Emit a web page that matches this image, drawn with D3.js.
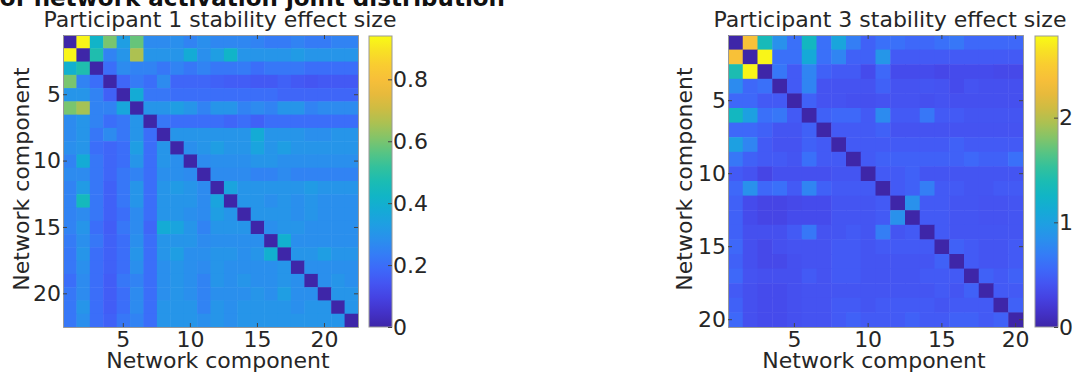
<!DOCTYPE html>
<html>
<head>
<meta charset="utf-8">
<script src="https://cdn.jsdelivr.net/npm/d3@7"></script>
<style>
  body { margin: 0; background: #fff; }
  text { font-family: "DejaVu Sans", Verdana, sans-serif; fill: #262626; }
</style>
</head>
<body>
<div id="chart"></div>
<script>
const width = 1073, height = 372

// tick labels
const matrixTicks = [5, 10, 15, 20]
const p1ColorTicks = [0, 0.2, 0.4, 0.6, 0.8]
const p3ColorTicks = [0, 1, 2]
const p1Max = 0.94
const p3Max = 2.78

// participant 1 effect sizes (22 x 22)
const p1Values = [
  [0, .93, .42, .60, .33, .58, .27, .27, .28, .25, .28, .26, .26, .26, .25, .23, .23, .25, .23, .23, .25, .25],
  [.93, 0, .48, .25, .30, .66, .30, .30, .30, .38, .28, .33, .42, .30, .30, .30, .30, .32, .30, .30, .30, .30],
  [.40, .48, 0, .20, .27, .25, .25, .22, .25, .22, .25, .22, .22, .23, .20, .22, .22, .22, .20, .20, .20, .20],
  [.60, .25, .20, 0, .18, .23, .20, .27, .18, .18, .18, .17, .16, .16, .15, .15, .17, .15, .14, .15, .15, .15],
  [.30, .30, .25, .17, 0, .38, .22, .22, .20, .20, .20, .20, .20, .20, .20, .20, .18, .18, .18, .18, .18, .18],
  [.60, .65, .25, .25, .36, 0, .30, .30, .33, .30, .25, .30, .30, .25, .27, .25, .30, .30, .25, .27, .27, .27],
  [.27, .30, .25, .20, .22, .30, 0, .22, .20, .20, .20, .20, .18, .20, .17, .20, .20, .20, .20, .20, .20, .20],
  [.27, .30, .22, .27, .22, .30, .20, 0, .30, .30, .30, .30, .30, .30, .38, .30, .30, .30, .28, .28, .30, .30],
  [.28, .30, .20, .18, .20, .33, .20, .30, 0, .28, .30, .33, .30, .30, .35, .30, .33, .30, .30, .30, .30, .30],
  [.25, .38, .22, .18, .20, .30, .20, .30, .28, 0, .27, .28, .28, .28, .30, .30, .28, .28, .28, .28, .28, .28],
  [.27, .27, .22, .18, .22, .25, .20, .28, .28, .27, 0, .27, .27, .27, .25, .25, .27, .25, .25, .25, .25, .25],
  [.25, .32, .22, .17, .22, .30, .20, .30, .32, .30, .27, 0, .35, .30, .30, .30, .30, .30, .32, .30, .30, .30],
  [.25, .45, .22, .17, .22, .30, .20, .30, .30, .30, .27, .35, 0, .30, .30, .28, .30, .28, .30, .28, .28, .28],
  [.25, .27, .22, .17, .20, .27, .20, .30, .30, .28, .27, .33, .30, 0, .30, .30, .30, .28, .30, .28, .28, .28],
  [.25, .30, .20, .16, .22, .27, .18, .38, .35, .30, .25, .30, .30, .30, 0, .28, .30, .30, .28, .28, .28, .28],
  [.23, .28, .22, .17, .20, .28, .20, .30, .30, .30, .27, .28, .28, .28, .28, 0, .40, .28, .28, .28, .28, .28],
  [.22, .30, .20, .17, .20, .30, .20, .30, .33, .28, .28, .30, .30, .28, .30, .40, 0, .30, .30, .33, .30, .30],
  [.22, .28, .20, .17, .20, .28, .20, .28, .30, .28, .27, .30, .28, .28, .28, .28, .30, 0, .28, .28, .28, .28],
  [.20, .27, .20, .16, .22, .25, .20, .28, .30, .28, .25, .30, .28, .30, .28, .28, .30, .28, 0, .28, .30, .28],
  [.22, .27, .20, .16, .20, .27, .20, .28, .30, .28, .25, .28, .28, .28, .30, .28, .33, .28, .28, 0, .30, .30],
  [.22, .30, .20, .16, .20, .27, .20, .30, .30, .30, .25, .30, .28, .30, .30, .30, .30, .28, .30, .30, 0, .30],
  [.22, .28, .20, .17, .22, .25, .20, .30, .30, .30, .28, .30, .28, .30, .30, .30, .30, .30, .30, .30, .30, 0]
]

// participant 3 effect sizes (20 x 20)
const p3Values = [
  [0, 2.40, 1.35, .85, .60, 1.30, .60, 1.05, .70, .50, .60, .60, .55, .55, .60, .65, .55, .55, .55, .55],
  [2.40, 0, 2.75, .60, .60, 1.10, .60, .75, .50, .50, .90, .45, .45, .45, .45, .45, .45, .45, .45, .45],
  [1.40, 2.75, 0, .65, .45, .75, .50, .45, .45, .35, .55, .35, .35, .35, .32, .35, .35, .35, .33, .33],
  [.80, .55, .60, 0, .45, .75, .40, .40, .40, .40, .50, .40, .40, .42, .40, .35, .40, .38, .38, .38],
  [.55, .55, .45, .45, 0, .50, .40, .40, .38, .38, .40, .40, .40, .38, .40, .38, .38, .38, .38, .38],
  [1.30, 1.00, .60, .65, .45, 0, .50, .55, .55, .45, .80, .45, .45, .65, .45, .45, .42, .42, .42, .42],
  [.55, .55, .50, .42, .42, .50, 0, .45, .45, .45, .50, .40, .40, .40, .40, .40, .40, .40, .40, .40],
  [1.00, .75, .45, .40, .40, .50, .45, 0, .45, .45, .45, .45, .45, .45, .45, .50, .45, .45, .45, .45],
  [.65, .50, .45, .45, .42, .60, .45, .45, 0, .45, .50, .50, .50, .50, .50, .50, .55, .50, .50, .60],
  [.45, .40, .30, .38, .38, .38, .38, .42, .42, 0, .45, .45, .50, .42, .42, .42, .42, .42, .42, .42],
  [.55, .85, .55, .60, .45, .75, .50, .45, .45, .45, 0, .45, .50, .70, .45, .45, .42, .42, .45, .45],
  [.50, .35, .30, .30, .33, .35, .35, .42, .42, .42, .45, 0, .85, .45, .45, .42, .42, .40, .40, .42],
  [.50, .35, .30, .30, .35, .35, .35, .42, .42, .42, .45, .85, 0, .45, .45, .42, .42, .40, .40, .42],
  [.50, .38, .38, .38, .45, .65, .40, .42, .45, .42, .70, .42, .45, 0, .45, .42, .42, .42, .42, .42],
  [.55, .38, .33, .38, .40, .40, .40, .45, .45, .42, .45, .45, .45, .45, 0, .50, .45, .42, .42, .45],
  [.50, .38, .33, .33, .38, .40, .40, .45, .45, .42, .42, .42, .42, .42, .50, 0, .45, .42, .42, .45],
  [.55, .40, .38, .38, .38, .45, .40, .45, .45, .42, .42, .42, .42, .45, .45, .45, 0, .50, .45, .50],
  [.45, .38, .35, .35, .38, .40, .40, .42, .42, .42, .42, .42, .42, .42, .45, .42, .50, 0, .45, .45],
  [.50, .38, .35, .35, .38, .40, .40, .45, .45, .42, .45, .45, .45, .45, .42, .45, .45, .45, 0, .50],
  [.55, .38, .35, .35, .38, .40, .40, .45, .50, .45, .45, .45, .50, .45, .45, .50, .50, .45, .50, 0]
]

// parula colour map (approximate key colours)
const parula = d3.interpolateRgbBasis([
  "#3e26a8", "#4536d7", "#4752f4", "#3b6ffc", "#2d8cf0", "#1ea0e2",
  "#0db2cf", "#16bcb4", "#3dc393", "#7ec66b", "#b8c04a", "#e3b83a",
  "#fdbd3c", "#f7d42a", "#f9fb15"
])

const svg = d3.select("#chart")
  .append("svg")
  .attr("width", width)
  .attr("height", height)

// figure heading, mostly cut off at the top
svg.append("text")
  .attr("x", 505)
  .attr("y", 6)
  .attr("text-anchor", "end")
  .style("font-weight", "bold")
  .style("font-size", "23px")
  .style("fill", "#111")
  .text("Stability of network activation joint distribution")

function drawPanel(opts) {
  const n = opts.values.length
  const x = d3.scaleBand().domain(d3.range(1, n + 1)).range([opts.left, opts.right])
  const y = d3.scaleBand().domain(d3.range(1, n + 1)).range([opts.top, opts.bottom])
  const color = d3.scaleSequential(parula).domain([0, opts.max])

  const cells = []
  opts.values.forEach((row, i) => {
    row.forEach((v, j) => cells.push({ r: i + 1, c: j + 1, v: v }))
  })

  const g = svg.append("g")

  g.selectAll("rect.cell")
    .data(cells)
    .enter().append("rect")
    .attr("class", "cell")
    .attr("x", d => x(d.c))
    .attr("y", d => y(d.r))
    .attr("width", x.bandwidth() + 0.5)
    .attr("height", y.bandwidth() + 0.5)
    .attr("fill", d => color(d.v))

  // matlab style box with inward ticks on all sides
  g.append("g").attr("class", "axis")
    .attr("transform", `translate(0,${opts.bottom})`)
    .call(d3.axisBottom(x).tickValues(matrixTicks).tickSizeInner(-4).tickSizeOuter(0).tickPadding(4))
  g.append("g").attr("class", "axis")
    .attr("transform", `translate(0,${opts.top})`)
    .call(d3.axisTop(x).tickValues(matrixTicks).tickSizeInner(-4).tickSizeOuter(0).tickFormat(""))
  g.append("g").attr("class", "axis")
    .attr("transform", `translate(${opts.left},0)`)
    .call(d3.axisLeft(y).tickValues(matrixTicks).tickSizeInner(-4).tickSizeOuter(0).tickPadding(2))
  g.append("g").attr("class", "axis")
    .attr("transform", `translate(${opts.right},0)`)
    .call(d3.axisRight(y).tickValues(matrixTicks).tickSizeInner(-4).tickSizeOuter(0).tickFormat(""))

  g.selectAll(".axis text").style("font-size", "22px").attr("fill", "#262626")
  g.selectAll(".axis path").attr("stroke", "#999")
  g.selectAll(".axis line").attr("stroke", "#444")

  // titles
  g.append("text")
    .attr("x", opts.titleX)
    .attr("y", 27)
    .attr("text-anchor", "middle")
    .style("font-size", "22px")
    .text(opts.title)

  g.append("text")
    .attr("x", opts.xLabelX)
    .attr("y", 368)
    .attr("text-anchor", "middle")
    .style("font-size", "22px")
    .text("Network component")

  g.append("text")
    .attr("transform", `translate(${opts.yLabelX},${(opts.top + opts.bottom) / 2 - 2}) rotate(-90)`)
    .attr("text-anchor", "middle")
    .style("font-size", "22px")
    .text("Network component")

  // colour bar
  const gradId = "grad-" + opts.id
  const grad = svg.append("defs").append("linearGradient")
    .attr("id", gradId)
    .attr("x1", 0).attr("y1", 1).attr("x2", 0).attr("y2", 0)
  d3.range(0, 1.0001, 0.05).forEach(t => {
    grad.append("stop").attr("offset", t).attr("stop-color", parula(t))
  })

  const cy = d3.scaleLinear().domain([0, opts.max]).range([opts.bottom, opts.top + 1])
  g.append("rect")
    .attr("x", opts.cbLeft)
    .attr("y", opts.top + 1)
    .attr("width", opts.cbWidth)
    .attr("height", opts.bottom - opts.top - 1)
    .attr("fill", `url(#${gradId})`)
    .attr("stroke", "#999")
    .attr("stroke-width", 1)

  const cb = g.append("g").attr("class", "axis")
    .attr("transform", `translate(${opts.cbLeft + opts.cbWidth},0)`)
    .call(d3.axisRight(cy).tickValues(opts.cbTicks).tickSizeInner(-4).tickSizeOuter(0)
      .tickPadding(1).tickFormat(d3.format("~g")))
  cb.select("path").remove()
  cb.selectAll("text").style("font-size", "22px").attr("fill", "#262626")
  cb.selectAll("line").attr("stroke", "#444")
}

drawPanel({
  id: "p1", values: p1Values, max: p1Max,
  left: 63, right: 358, top: 35, bottom: 327,
  cbLeft: 369, cbWidth: 23, cbTicks: p1ColorTicks,
  title: "Participant 1 stability effect size", titleX: 220,
  xLabelX: 218, yLabelX: 29
})

drawPanel({
  id: "p3", values: p3Values, max: p3Max,
  left: 728, right: 1023, top: 35, bottom: 327,
  cbLeft: 1035, cbWidth: 23, cbTicks: p3ColorTicks,
  title: "Participant 3 stability effect size", titleX: 890,
  xLabelX: 874, yLabelX: 692
})
</script>
</body>
</html>
